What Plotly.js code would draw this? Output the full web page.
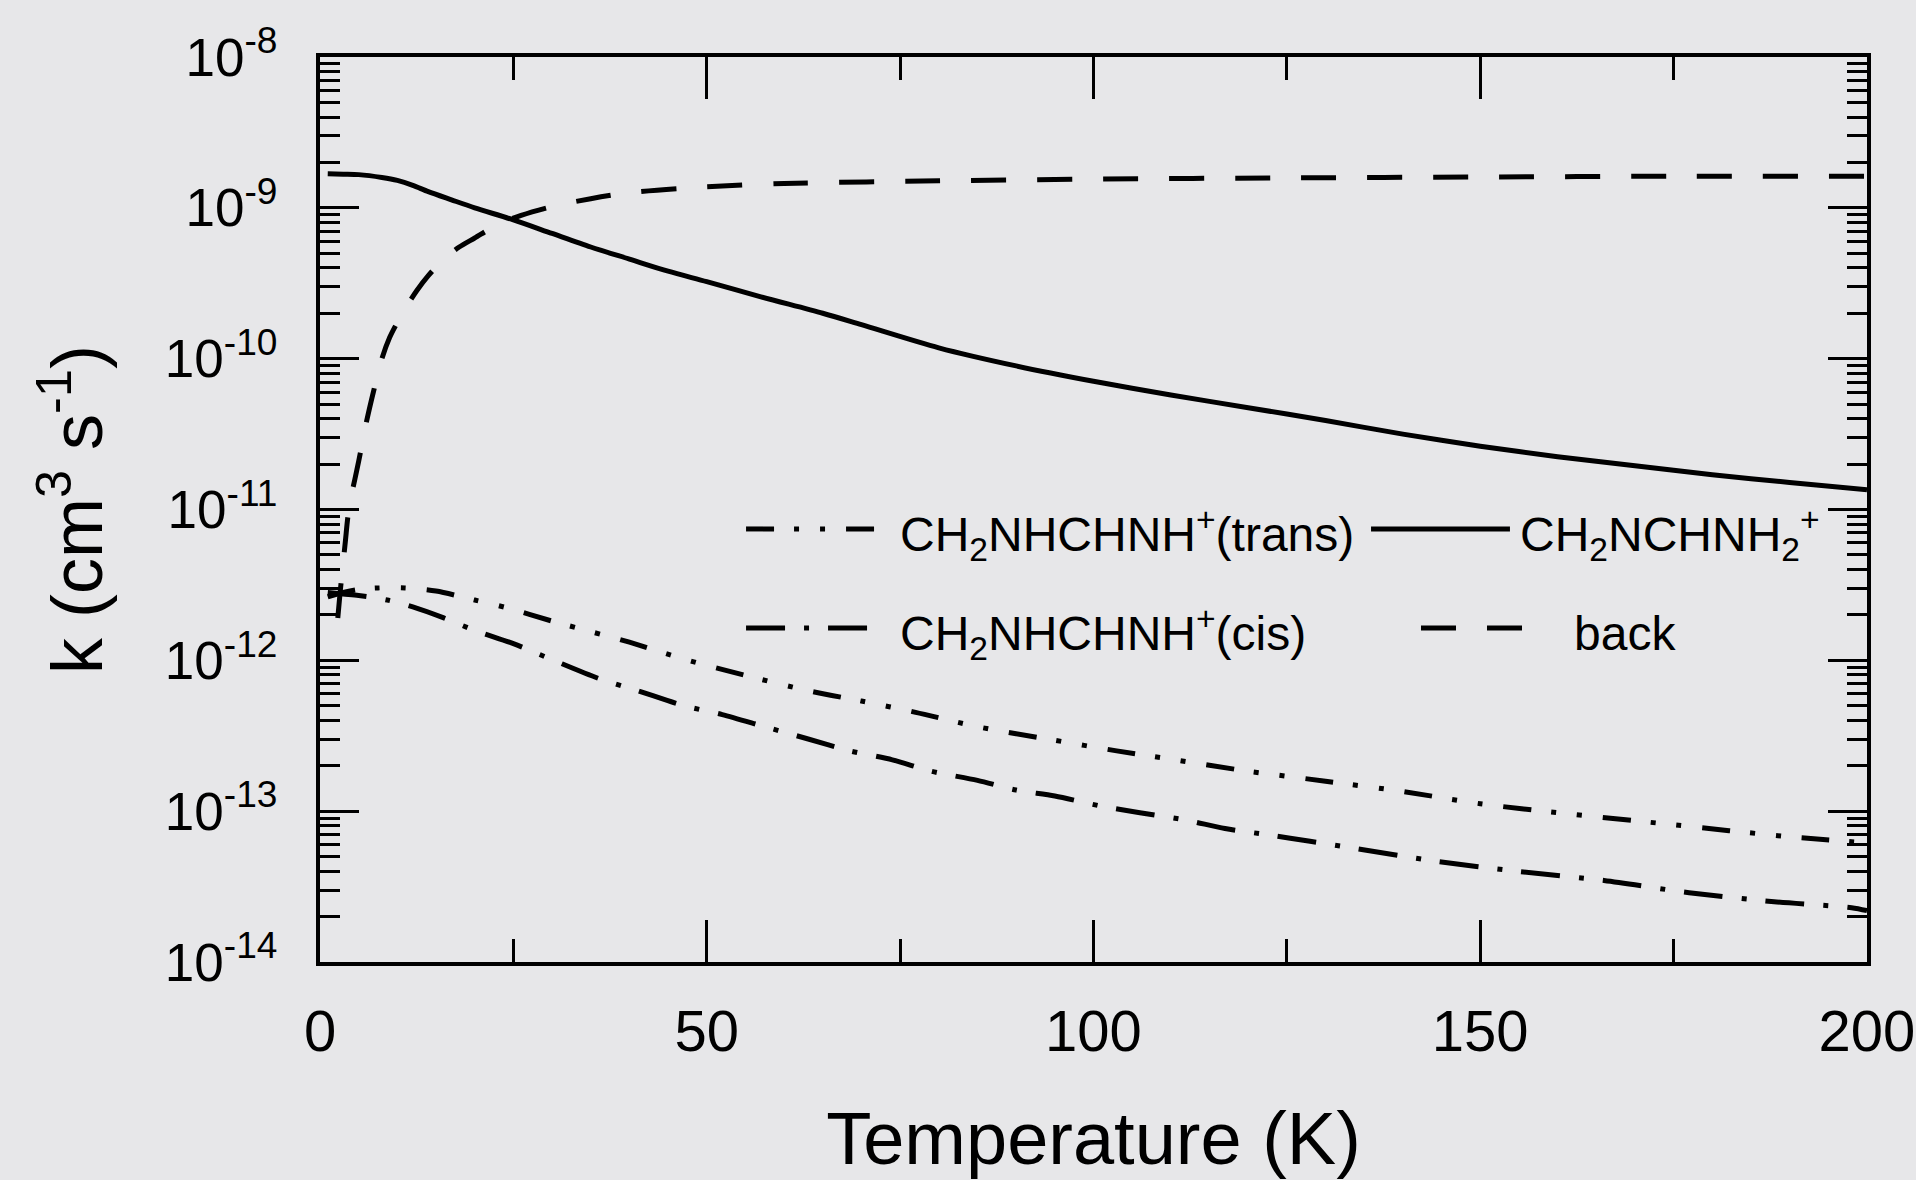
<!DOCTYPE html>
<html><head><meta charset="utf-8">
<script src="https://cdn.plot.ly/plotly-3.0.1.min.js"></script>
<style>html,body{margin:0;padding:0;background:#e7e7e9;}#chart{width:1916px;height:1180px;}</style>
</head><body><div id="chart"></div>
<script>
// Temperature (K) and rate coefficient k (cm^3 s^-1)
const transT = [1, 3, 5, 7.5, 11, 15, 20, 24, 30, 35, 40, 47, 55, 63, 70, 77, 85, 95, 103, 110, 120, 130, 140, 150, 160, 175, 190, 200];
const transK = [2.63e-12, 2.82e-12, 2.95e-12, 3.02e-12, 3.02e-12, 2.88e-12, 2.51e-12, 2.24e-12, 1.82e-12, 1.55e-12, 1.32e-12, 1.02e-12, 7.94e-13, 6.31e-13, 5.37e-13, 4.52e-13, 3.63e-13, 2.95e-13, 2.51e-13, 2.21e-13, 1.84e-13, 1.58e-13, 1.35e-13, 1.12e-13, 9.77e-14, 8.13e-14, 6.76e-14, 6.17e-14];

const cisT = [1, 3, 5, 8.7, 12, 16, 20, 25, 30, 36, 41, 47, 52, 57.5, 63, 68.5, 74, 79, 85, 90, 95, 101, 106, 112, 117, 123, 128, 133, 144, 155, 166, 177, 188, 198, 200];
const cisK = [2.82e-12, 2.75e-12, 2.69e-12, 2.51e-12, 2.26e-12, 1.91e-12, 1.58e-12, 1.29e-12, 1.01e-12, 7.59e-13, 6.31e-13, 5.01e-13, 4.37e-13, 3.63e-13, 3.02e-13, 2.51e-13, 2.19e-13, 1.84e-13, 1.60e-13, 1.38e-13, 1.26e-13, 1.08e-13, 9.77e-14, 8.71e-14, 7.67e-14, 6.92e-14, 6.31e-14, 5.75e-14, 4.68e-14, 3.98e-14, 3.47e-14, 2.88e-14, 2.51e-14, 2.29e-14, 2.19e-14];

const protT = [1, 3, 5, 8, 10, 12, 14, 17, 20, 25, 30, 35, 40, 45, 50, 57, 65, 70, 80, 90, 100, 110, 120, 130, 140, 150, 160, 170, 180, 190, 200];
const protK = [1.68e-9, 1.67e-9, 1.66e-9, 1.59e-9, 1.52e-9, 1.41e-9, 1.28e-9, 1.13e-9, 1.00e-9, 8.32e-10, 6.76e-10, 5.50e-10, 4.57e-10, 3.80e-10, 3.24e-10, 2.57e-10, 2.00e-10, 1.68e-10, 1.18e-10, 8.95e-11, 7.08e-11, 5.75e-11, 4.73e-11, 3.89e-11, 3.16e-11, 2.63e-11, 2.24e-11, 1.95e-11, 1.70e-11, 1.51e-11, 1.35e-11];

const backT = [2.3, 2.6, 3.0, 3.3, 3.6, 4.0, 4.5, 5.0, 5.5, 6.0, 7.0, 8.0, 9.0, 10, 11, 12.5, 14, 16, 18, 20, 23, 26, 30, 35, 40, 50, 60, 80, 100, 125, 150, 175, 200];
const backK = [1.91e-12, 2.82e-12, 4.47e-12, 6.31e-12, 8.91e-12, 1.20e-11, 1.58e-11, 2.09e-11, 2.82e-11, 3.80e-11, 6.31e-11, 1.00e-10, 1.38e-10, 1.74e-10, 2.14e-10, 2.82e-10, 3.55e-10, 4.57e-10, 5.50e-10, 6.31e-10, 7.76e-10, 8.91e-10, 1.02e-9, 1.15e-9, 1.26e-9, 1.38e-9, 1.45e-9, 1.51e-9, 1.55e-9, 1.58e-9, 1.60e-9, 1.62e-9, 1.62e-9];

const seriesNames = ['CH<sub>2</sub>NHCHNH<sup>+</sup>(trans)', 'CH<sub>2</sub>NCHNH<sub>2</sub><sup>+</sup>', 'CH<sub>2</sub>NHCHNH<sup>+</sup>(cis)', 'back'];

const xTickVals = [0, 50, 100, 150, 200];
const xTickText = ['0', '50', '100', '150', '200'];
const yTickVals = [1e-14, 1e-13, 1e-12, 1e-11, 1e-10, 1e-9, 1e-8];
const yTickText = ['10<sup>-14</sup>', '10<sup>-13</sup>', '10<sup>-12</sup>', '10<sup>-11</sup>', '10<sup>-10</sup>', '10<sup>-9</sup>', '10<sup>-8</sup>'];

const FONT = "'Liberation Sans', Arial, Helvetica, sans-serif";
const BG = '#e7e7e9';
const DASHES = {
  trans: '28px,20px,5px,21px,5px,21px',
  prot: 'solid',
  cis: '39px,19px,5px,19px',
  back: '35px,31px'
};
const LW = 5;

const traces = [
  {x: transT, y: transK, name: seriesNames[0], dash: DASHES.trans},
  {x: protT, y: protK, name: seriesNames[1], dash: DASHES.prot},
  {x: cisT, y: cisK, name: seriesNames[2], dash: DASHES.cis},
  {x: backT, y: backK, name: seriesNames[3], dash: DASHES.back}
].map(s => ({
  type: 'scatter', mode: 'lines', x: s.x, y: s.y, name: s.name,
  showlegend: false, hoverinfo: 'skip',
  line: {color: '#000', width: LW, dash: s.dash, shape: 'spline', smoothing: 0.8}
}));

// hand-built two-column key (line sample + label), in paper coordinates
const keyRows = [0.4785, 0.369];
const keyItems = [
  {x0: 0.2754, x1: 0.3633, tx: 0.3736, row: 0, dash: DASHES.trans, label: seriesNames[0]},
  {x0: 0.6794, x1: 0.7692, tx: 0.7744, row: 0, dash: DASHES.prot, label: seriesNames[1]},
  {x0: 0.2754, x1: 0.3555, tx: 0.3736, row: 1, dash: DASHES.cis, label: seriesNames[2]},
  {x0: 0.7117, x1: 0.7796, tx: 0.8093, row: 1, dash: DASHES.back, label: seriesNames[3]}
];
const shapes = keyItems.map(k => ({
  type: 'line', xref: 'paper', yref: 'paper', x0: k.x0, x1: k.x1, y0: keyRows[k.row], y1: keyRows[k.row],
  line: {color: '#000', width: LW, dash: k.dash}
}));
const annotations = keyItems.map(k => ({
  xref: 'paper', yref: 'paper', x: k.tx, y: keyRows[k.row] - 0.006, xanchor: 'left', yanchor: 'middle',
  text: k.label, showarrow: false, font: {family: FONT, size: 48, color: '#000'}
}));

const layout = {
  width: 1916, height: 1180,
  margin: {l: 320, r: 49, t: 57, b: 218},
  paper_bgcolor: BG, plot_bgcolor: BG,
  showlegend: false,
  xaxis: {
    range: [0, 200], tickmode: 'array', tickvals: xTickVals, ticktext: xTickText,
    ticks: 'inside', ticklen: 42, tickwidth: 3, tickcolor: '#000',
    showline: true, linewidth: 4, linecolor: '#000', mirror: 'ticks',
    showgrid: false, zeroline: false,
    minor: {ticks: 'inside', tick0: 0, dtick: 25, ticklen: 23, tickwidth: 3, tickcolor: '#000', showgrid: false},
    tickfont: {family: FONT, size: 58, color: '#000'},
    ticklabelstandoff: 15,
    title: {text: 'Temperature (K)', font: {family: FONT, size: 74, color: '#000'}, standoff: 70}
  },
  yaxis: {
    type: 'log', range: [-14, -8], tickmode: 'array', tickvals: yTickVals, ticktext: yTickText,
    ticks: 'inside', ticklen: 39, tickwidth: 3, tickcolor: '#000',
    showline: true, linewidth: 4, linecolor: '#000', mirror: 'ticks',
    showgrid: false, zeroline: false,
    minor: {ticks: 'inside', dtick: 'D1', ticklen: 20, tickwidth: 3, tickcolor: '#000', showgrid: false},
    tickfont: {family: FONT, size: 53, color: '#000'},
    ticklabelstandoff: 28,
    title: {text: 'k (cm<sup>3</sup> s<sup>-1</sup>)', font: {family: FONT, size: 72, color: '#000'}, standoff: 40}
  },
  shapes: shapes,
  annotations: annotations
};

Plotly.newPlot('chart', traces, layout, {staticPlot: true, displayModeBar: false});
</script>
</body></html>
